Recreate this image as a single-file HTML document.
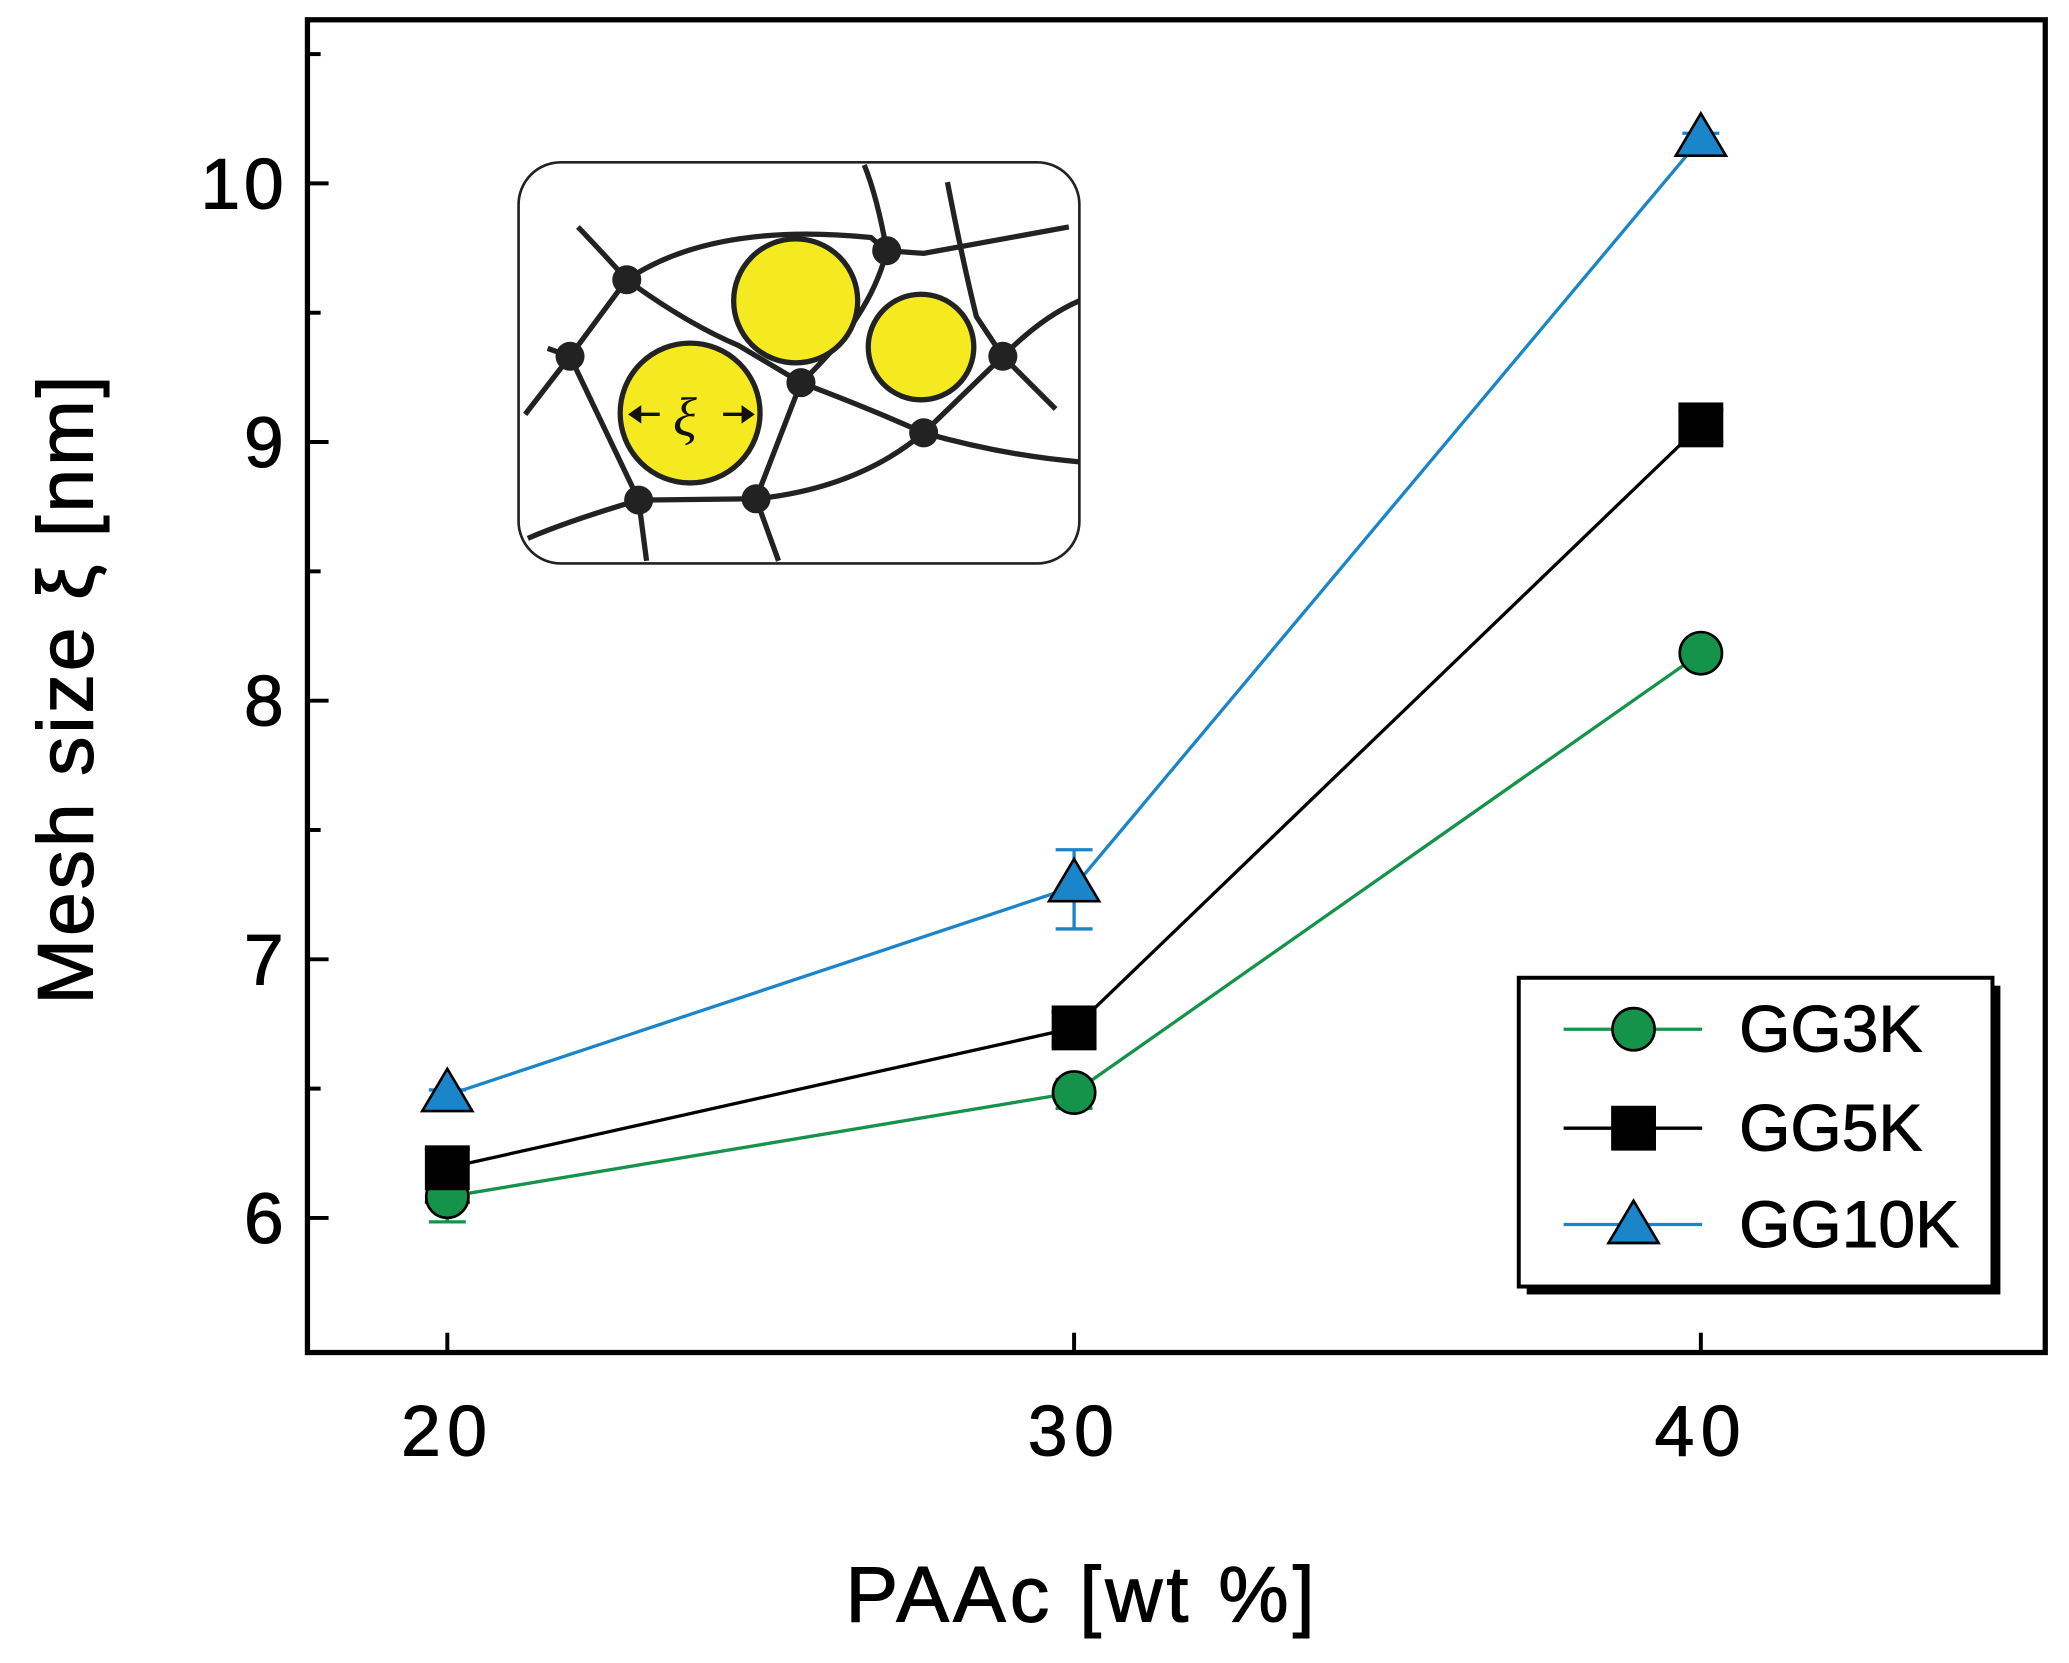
<!DOCTYPE html>
<html><head><style>html,body{margin:0;padding:0;background:#fff}svg{display:block}</style></head>
<body>
<svg width="2069" height="1663" viewBox="0 0 1568 1260.3" preserveAspectRatio="none" xmlns="http://www.w3.org/2000/svg" font-family="'Liberation Sans', sans-serif">
<rect x="233" y="15" width="1317" height="1010" fill="none" stroke="#000" stroke-width="4"/>
<g stroke="#000" stroke-width="3">
<line x1="233" y1="41" x2="243" y2="41"/><line x1="233" y1="139" x2="249" y2="139"/>
<line x1="233" y1="237" x2="243" y2="237"/><line x1="233" y1="335" x2="249" y2="335"/>
<line x1="233" y1="433" x2="243" y2="433"/><line x1="233" y1="531" x2="249" y2="531"/>
<line x1="233" y1="629" x2="243" y2="629"/><line x1="233" y1="727" x2="249" y2="727"/>
<line x1="233" y1="825" x2="243" y2="825"/><line x1="233" y1="923" x2="249" y2="923"/>
<line x1="339" y1="1025" x2="339" y2="1010"/><line x1="814" y1="1025" x2="814" y2="1010"/><line x1="1289" y1="1025" x2="1289" y2="1010"/>
</g>
<g font-size="54" text-anchor="end" stroke="#000" stroke-width="0.8" letter-spacing="3">
<text x="218" y="158">10</text><text x="218" y="354">9</text><text x="218" y="550">8</text>
<text x="218" y="746">7</text><text x="218" y="942">6</text>
</g>
<g font-size="54" text-anchor="middle" stroke="#000" stroke-width="0.8">
<text x="339" y="1103" letter-spacing="5">20</text><text x="814" y="1103" letter-spacing="5">30</text><text x="1289" y="1103" letter-spacing="5">40</text>
<text x="820" y="1229" font-size="60" letter-spacing="3">PAAc [wt %]</text>
<text transform="translate(70,522) rotate(-90)" font-size="60" letter-spacing="2">Mesh size ξ [nm]</text>
</g>
<!-- inset -->
<rect x="393" y="123" width="425" height="304" rx="32" fill="#fff" stroke="#222" stroke-width="2"/>
<g fill="none" stroke="#222" stroke-width="4">
<path d="M438 172 Q460 195 475 212 Q540 168 660 180 L672 190 L700 192 L810 172"/>
<path d="M655 125 Q665 150 672 190 Q660 240 607 290 L573 378 L590 425"/>
<path d="M475 212 L432 270 L398 314"/>
<path d="M415 264 L432 270 L484 379 L490 425"/>
<path d="M475 212 Q520 245 560 262 L607 290 Q660 310 700 328 L760 270 L800 310"/>
<path d="M760 270 Q790 240 818 228"/>
<path d="M718 138 Q730 200 740 240 L760 270"/>
<path d="M700 328 Q760 345 818 350"/>
<path d="M700 328 Q650 370 573 378 L484 379 Q430 395 400 408"/>
</g>
<g fill="#f5ea20" stroke="#222" stroke-width="4">
<circle cx="603" cy="228" r="47"/><circle cx="698" cy="263" r="40"/><circle cx="523" cy="313" r="53"/>
</g>
<g fill="#222"><circle cx="475" cy="212" r="11"/><circle cx="432" cy="270" r="11"/><circle cx="672" cy="190" r="11"/><circle cx="607" cy="290" r="11"/><circle cx="760" cy="270" r="11"/><circle cx="700" cy="328" r="11"/><circle cx="484" cy="379" r="11"/><circle cx="573" cy="378" r="11"/></g>
<g stroke="#111" stroke-width="2.5"><line x1="480" y1="314" x2="500" y2="314"/><line x1="548" y1="314" x2="568" y2="314"/></g>
<path d="M476 314 L486 307 L486 321Z M572 314 L562 307 L562 321Z" fill="#111"/>
<text x="519" y="330" font-size="42" font-style="italic" text-anchor="middle" fill="#111" font-family="'Liberation Serif', serif">ξ</text>
<!-- series lines -->
<polyline points="339,907 814,828 1289,495" fill="none" stroke="#16934a" stroke-width="2.5"/>
<polyline points="339,885 814,779 1289,322" fill="none" stroke="#000" stroke-width="2.5"/>
<polyline points="339,830 814,672 1289,105" fill="none" stroke="#1a86c9" stroke-width="2.5"/>
<!-- error bars -->
<g stroke="#16934a" stroke-width="2.5"><path d="M339 888V926M325 888H353M325 926H353M814 818V840M800 818H828M800 840H828M1289 489V502M1275 489H1303M1275 502H1303"/></g>
<g stroke="#000" stroke-width="2.5"><path d="M339 871V911M322 871H356M322 911H356M814 767V792M797 767H831M797 792H831M1289 311V335M1272 311H1306M1272 335H1306"/></g>
<g stroke="#1a86c9" stroke-width="2.5"><path d="M339 826V838M325 826H353M325 838H353M814 644V704M800 644H828M800 704H828M1289 101V113M1275 101H1303M1275 113H1303"/></g>
<!-- markers -->
<g fill="#16934a" stroke="#000" stroke-width="2"><circle cx="339" cy="907" r="16"/><circle cx="814" cy="828" r="16"/><circle cx="1289" cy="495" r="16"/></g>
<g fill="#000"><rect x="322" y="868" width="34" height="34"/><rect x="797" y="762" width="34" height="34"/><rect x="1272" y="305" width="34" height="34"/></g>
<g fill="#1a86c9" stroke="#000" stroke-width="2"><path d="M339 810L358 842H320Z"/><path d="M814 651L833 683H795Z"/><path d="M1289 86L1308 118H1270Z"/></g>
<!-- legend -->
<rect x="1157" y="747" width="359" height="234" fill="#000"/>
<rect x="1151" y="741" width="359" height="234" fill="#fff" stroke="#000" stroke-width="3"/>
<line x1="1185" y1="780" x2="1290" y2="780" stroke="#16934a" stroke-width="2.5"/>
<circle cx="1238" cy="780" r="16" fill="#16934a" stroke="#000" stroke-width="2"/>
<line x1="1185" y1="855" x2="1290" y2="855" stroke="#000" stroke-width="2.5"/>
<rect x="1221" y="838" width="34" height="34" fill="#000"/>
<line x1="1185" y1="928" x2="1290" y2="928" stroke="#1a86c9" stroke-width="2.5"/>
<path d="M1238 910L1257 942H1219Z" fill="#1a86c9" stroke="#000" stroke-width="2"/>
<g font-size="50" stroke="#000" stroke-width="0.7"><text x="1318" y="797">GG3K</text><text x="1318" y="872">GG5K</text><text x="1318" y="945">GG10K</text></g>
</svg>
</body></html>
